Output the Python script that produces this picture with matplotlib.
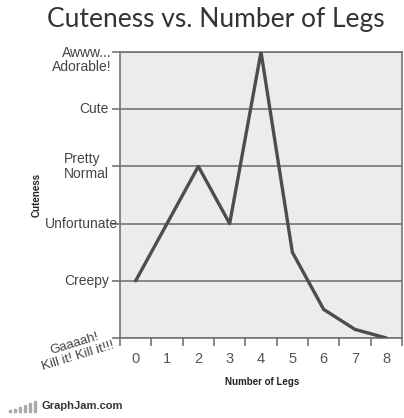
import matplotlib
matplotlib.use("Agg")
import matplotlib.pyplot as plt
from matplotlib.patches import Rectangle

plt.rcParams["font.family"] = ["Liberation Sans", "DejaVu Sans"]

legs = [0, 1, 2, 3, 4, 5, 6, 7, 8]
cuteness = [1, 2, 3, 2, 5, 1.5, 0.5, 0.15, 0]
levels = [0, 1, 2, 3, 4, 5]
level_labels = ["Gaaaah!\nKill it! Kill it!!!", "Creepy", "Unfortunate",
                "Pretty\nNormal", "Cute", "Awww...\nAdorable!"]

fig = plt.figure(figsize=(4.04, 4.18), dpi=100)
ax = fig.add_axes([120/404, 80/418, 282/404, 286/418])
ax.set_facecolor("#ececec")

grid_c = "#747474"
for v in levels:
    ax.axhline(v, color=grid_c, lw=1.2, zorder=1)

ax.plot(legs, cuteness, color="#4d4d4d", lw=2.4, zorder=3, solid_capstyle="round")

ax.set_xlim(-0.5, 8.5)
ax.set_ylim(0, 5)
for s in ax.spines.values():
    s.set_color(grid_c)
    s.set_linewidth(1.2)

ax.set_xticks(legs)
ax.set_xticklabels([str(l) for l in legs], color="#555555", fontsize=10.5)
ax.set_xticks([l + 0.5 for l in [-1] + legs], minor=True)
ax.tick_params(axis="x", which="major", length=0, pad=10)
ax.tick_params(axis="x", which="minor", length=6, width=1.2, color=grid_c)

ax.set_yticks(levels)
ax.set_yticklabels([""] * len(levels))
ax.tick_params(axis="y", length=6, width=1.2, color=grid_c)

lab_c = "#444444"
for v, lab in zip(levels, level_labels):
    if v == 0:
        fig.text(116/404, 1 - 351/418, lab, ha="right", va="bottom",
                 rotation=17, rotation_mode="anchor", fontsize=9.5, color=lab_c,
                 multialignment="center", linespacing=1.1)
    elif v == 5:
        ax.text(-0.78, 4.86, lab, ha="right", va="center", fontsize=10, color=lab_c,
                multialignment="right", linespacing=1.0)
    elif v == 2:
        ax.text(-0.56, v, lab, ha="right", va="center", fontsize=10, color=lab_c)
    else:
        ax.text(-0.85, v, lab, ha="right", va="center", fontsize=10, color=lab_c,
                multialignment="left", linespacing=1.05)

fig.text(37/404, 1 - 195/418, "Cuteness", rotation=90, ha="center", va="center",
         fontsize=7, fontweight="bold", color="#222222")
fig.text(262/404, 1 - 382/418, "Number of Legs", ha="center", va="center",
         fontsize=7, fontweight="bold", color="#222222")

fig.text(216/404, 1 - 19/418, "Cuteness vs. Number of Legs", ha="center", va="center",
         fontsize=19, color="#333333", family="Lato")

# GraphJam watermark
bar_x = [9, 14, 19, 24, 29, 34]
bar_h = [2, 3, 5, 7, 9, 11]
for bx, bh in zip(bar_x, bar_h):
    fig.patches.append(Rectangle((bx/404, (418-412)/418), 2/404, bh/418,
                                 transform=fig.transFigure, color="#aaaaaa"))
fig.text(41/404, 1 - 406/418, "GraphJam.com", ha="left", va="center",
         fontsize=8, fontweight="bold", color="#333333")

fig.savefig("out.png", dpi=100, facecolor="white")
